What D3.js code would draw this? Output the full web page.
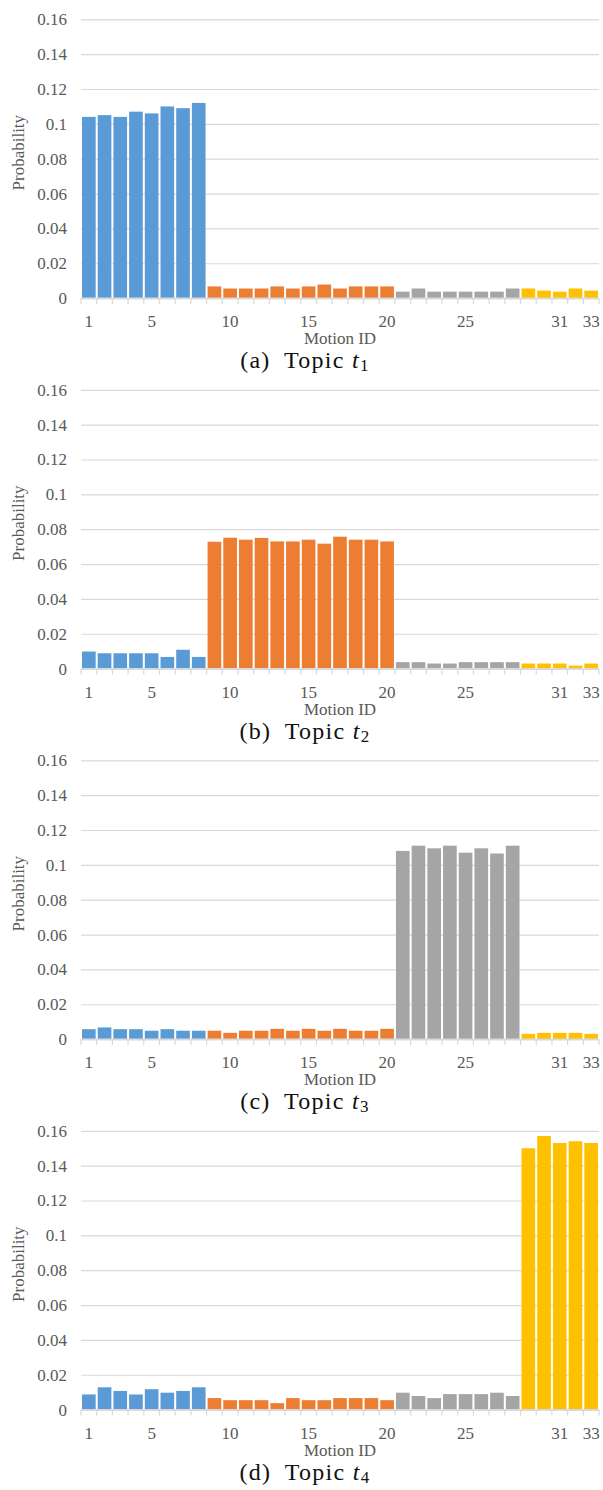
<!DOCTYPE html>
<html>
<head>
<meta charset="utf-8">
<script src="https://cdn.jsdelivr.net/npm/d3@7"></script>
<style>
  body { margin: 0; background: #fff; }
</style>
</head>
<body>
<svg id="chart" width="603" height="1490"></svg>
<script>
// Motion IDs on the x axis
const motionIds = [1, 2, 3, 4, 5, 6, 7, 8, 9, 10, 11, 12, 13, 14, 15, 16, 17,
    18, 19, 20, 21, 22, 23, 24, 25, 26, 27, 28, 29, 30, 31, 32, 33];
const tickLabels = [1, 5, 10, 15, 20, 25, 31, 33];
const yTicks = [0, 0.02, 0.04, 0.06, 0.08, 0.1, 0.12, 0.14, 0.16];

// last motion id of each colour group
const groupEnds = [8, 20, 28, 33];
const groupColors = ["#5b9bd5", "#ed7d31", "#a5a5a5", "#ffc000"];

const topicT1 = [0.104, 0.105, 0.104, 0.107, 0.106, 0.110, 0.109, 0.112,
    0.0067, 0.0055, 0.0055, 0.0055, 0.0067, 0.0055, 0.0067, 0.0078, 0.0055, 0.0067, 0.0067, 0.0067,
    0.0037, 0.0055, 0.0037, 0.0037, 0.0037, 0.0037, 0.0037, 0.0055,
    0.0055, 0.0043, 0.0037, 0.0055, 0.0043];
const topicT2 = [0.0098, 0.0088, 0.0088, 0.0088, 0.0088, 0.0067, 0.0108, 0.0067,
    0.0728, 0.0751, 0.074, 0.075, 0.073, 0.073, 0.074, 0.0717, 0.0757, 0.074, 0.074, 0.073,
    0.0037, 0.0037, 0.0029, 0.0029, 0.0037, 0.0037, 0.0037, 0.0037,
    0.0029, 0.0029, 0.0029, 0.0017, 0.0029];
const topicT3 = [0.0057, 0.0067, 0.0057, 0.0057, 0.0048, 0.0057, 0.0048, 0.0048,
    0.0048, 0.0036, 0.0048, 0.0048, 0.0059, 0.0048, 0.0059, 0.0048, 0.0059, 0.0048, 0.0048, 0.0059,
    0.108, 0.111, 0.1095, 0.111, 0.107, 0.1095, 0.1065, 0.111,
    0.003, 0.0036, 0.0036, 0.0036, 0.003];
const topicT4 = [0.0087, 0.0128, 0.0107, 0.0087, 0.0117, 0.0097, 0.0107, 0.0128,
    0.0066, 0.0054, 0.0054, 0.0054, 0.0037, 0.0066, 0.0054, 0.0054, 0.0066, 0.0066, 0.0066, 0.0054,
    0.0097, 0.0078, 0.0066, 0.0089, 0.0089, 0.0089, 0.0097, 0.0078,
    0.150, 0.157, 0.153, 0.154, 0.153];

const panels = [
    { letter: "a", sub: "1", values: topicT1 },
    { letter: "b", sub: "2", values: topicT2 },
    { letter: "c", sub: "3", values: topicT3 },
    { letter: "d", sub: "4", values: topicT4 }
];

const serif = "'Liberation Serif', 'DejaVu Serif', serif";
const svg = d3.select("#chart");
const left = 81, right = 599;
const panelTop = 19.3, panelStep = 370.5, plotH = 278.8;
const gridColor = "#d9d9d9", labelColor = "#595959";

const x = d3.scaleBand()
    .domain(motionIds)
    .range([left, right])
    .paddingInner(0.13)
    .paddingOuter(0.065);

const y = d3.scaleLinear().domain([0, 0.16]).range([plotH, 0]);

function colorOf(id) {
    const g = groupEnds.findIndex(e => id <= e);
    return groupColors[g];
}

panels.forEach((p, i) => {
    const g = svg.append("g")
        .attr("transform", `translate(0,${panelTop + i * panelStep})`);

    // gridlines + y labels
    const yAxis = g.append("g")
        .attr("transform", `translate(${left},0)`)
        .call(d3.axisLeft(y).tickValues(yTicks)
            .tickSize(-(right - left))
            .tickPadding(14)
            .tickFormat(d => d === 0 ? "0" : String(+d.toFixed(2))));
    yAxis.attr("font-family", serif);
    yAxis.select(".domain").remove();
    yAxis.selectAll(".tick line")
        .attr("stroke", gridColor)
        .attr("stroke-width", 1.2)
        .filter(d => d === 0).remove();
    yAxis.selectAll(".tick text")
        .attr("fill", labelColor)
        .attr("font-family", serif)
        .attr("font-size", 17);

    g.append("text")
        .attr("transform", `translate(24,${plotH / 2 - 6}) rotate(-90)`)
        .attr("text-anchor", "middle")
        .attr("fill", labelColor)
        .attr("font-family", serif)
        .attr("font-size", 17)
        .text("Probability");

    // bars
    g.append("g").selectAll("rect")
        .data(motionIds)
        .join("rect")
        .attr("x", d => x(d))
        .attr("width", x.bandwidth())
        .attr("y", (d, k) => y(p.values[k]))
        .attr("height", (d, k) => plotH - y(p.values[k]))
        .attr("fill", d => colorOf(d));

    // x axis line with ticks at band edges
    const step = x.step();
    const edges = motionIds.map(d => x(d) - step * x.paddingInner() / 2);
    edges[0] = left;
    edges.push(right);
    const xa = g.append("g").attr("transform", `translate(0,${plotH})`);
    xa.selectAll("line.tk")
        .data(edges)
        .join("line")
        .attr("class", "tk")
        .attr("x1", d => d).attr("x2", d => d)
        .attr("y1", 0).attr("y2", 6)
        .attr("stroke", gridColor)
        .attr("stroke-width", 1.2);
    xa.append("line")
        .attr("x1", left).attr("x2", right)
        .attr("y1", 0.5).attr("y2", 0.5)
        .attr("stroke", gridColor)
        .attr("stroke-width", 2);

    xa.selectAll("text.lb")
        .data(tickLabels)
        .join("text")
        .attr("class", "lb")
        .attr("x", d => x(d) + x.bandwidth() / 2)
        .attr("y", 29)
        .attr("text-anchor", "middle")
        .attr("fill", labelColor)
        .attr("font-family", serif)
        .attr("font-size", 17)
        .text(d => d);

    xa.append("text")
        .attr("x", (left + right) / 2)
        .attr("y", 46)
        .attr("text-anchor", "middle")
        .attr("fill", labelColor)
        .attr("font-family", serif)
        .attr("font-size", 17)
        .text("Motion ID");

    // caption
    const cap = g.append("text")
        .attr("x", 305)
        .attr("y", 349)
        .attr("text-anchor", "middle")
        .attr("fill", "#111")
        .attr("font-family", serif)
        .attr("font-size", 24)
        .attr("letter-spacing", 1.3);
    cap.append("tspan").text(`(${p.letter})\u2002Topic `);
    cap.append("tspan").attr("font-style", "italic").text("t");
    cap.append("tspan").attr("font-size", 17).attr("dy", 3).text(p.sub);
});
</script>
</body>
</html>
